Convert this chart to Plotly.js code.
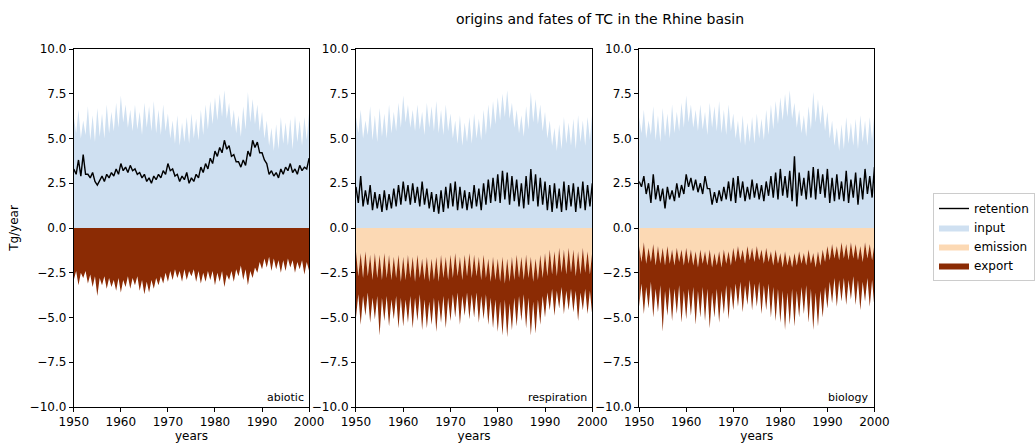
<!DOCTYPE html>
<html>
<head>
<meta charset="utf-8">
<script src="https://cdn.plot.ly/plotly-3.0.1.min.js"></script>
<style>html,body{margin:0;padding:0;background:#fff;}#chart{width:1035px;height:443px;}</style>
</head>
<body>
<div id="chart"></div>
<script>
// half-yearly samples, 1950.0 .. 2000.0 (winter, summer, winter, ...)
const startYear = 1950, step = 0.5, nPoints = 101;

// input of TC (Tg/year), same in all panels
const input = [6.2,5.3,6.6,5.0,6.0,5.2,6.8,4.9,6.3,4.8,6.7,5.1,6.4,5.0,6.9,5.3,6.5,5.4,7.0,5.6,
7.4,5.9,6.9,5.6,6.6,5.4,6.9,5.5,6.5,5.2,7.0,5.6,6.8,5.4,7.1,5.3,6.6,5.2,6.9,5.4,
6.4,5.0,6.0,4.7,6.3,4.6,5.9,4.8,6.2,4.7,6.4,5.0,6.1,4.9,6.6,5.2,6.9,5.5,7.1,5.8,
7.3,6.0,7.5,6.2,7.7,6.1,7.0,5.6,6.6,5.3,6.3,5.1,6.8,5.5,7.6,5.9,7.2,5.8,6.9,5.4,
6.5,5.0,6.0,4.6,5.6,4.3,5.8,4.4,6.2,4.7,5.9,4.6,6.1,4.4,6.3,4.8,6.0,4.6,6.2,4.9,6.5];

// abiotic scenario
const abioticRetention = [3.3,3.0,3.8,2.9,4.1,3.0,3.0,2.8,3.1,2.6,2.4,2.7,2.9,2.6,3.0,2.8,3.1,2.9,3.3,3.0,
3.6,3.2,3.4,3.1,3.5,3.2,3.3,3.0,3.1,2.8,3.0,2.6,2.8,2.5,2.9,2.7,3.0,2.8,3.2,3.0,
3.6,3.2,3.3,2.9,3.0,2.6,2.9,2.7,3.1,2.5,2.8,2.6,3.0,2.8,3.4,3.1,3.6,3.3,3.9,3.6,
4.3,4.0,4.5,4.2,4.9,4.4,4.6,4.0,4.1,3.7,3.7,3.4,3.8,3.5,4.3,4.0,4.9,4.5,4.8,4.2,
4.2,3.8,3.6,3.0,3.2,2.9,3.1,2.8,3.3,3.0,3.4,3.2,3.6,3.1,3.3,3.0,3.5,3.2,3.4,3.3,3.9];
const abioticExport = [2.9,2.4,3.2,2.5,2.8,2.4,3.1,2.6,3.3,2.7,3.8,2.8,3.2,2.7,3.4,2.8,3.3,2.9,3.5,2.8,
3.6,2.9,3.3,2.7,3.4,2.8,3.2,2.7,3.5,2.9,3.7,3.0,3.6,2.9,3.4,2.8,3.2,2.7,3.1,2.5,
3.0,2.4,2.9,2.3,2.8,2.4,3.0,2.3,2.9,2.4,2.7,2.3,3.0,2.4,3.1,2.5,3.0,2.4,2.9,2.4,
3.2,2.5,3.0,2.4,3.3,2.6,2.9,2.4,3.0,2.3,2.7,2.1,2.9,2.3,3.2,2.4,2.8,2.2,2.5,1.9,
2.3,1.7,2.2,1.6,2.4,1.7,2.3,1.8,2.5,1.8,2.4,1.7,2.2,1.8,2.5,1.9,2.3,1.8,2.6,1.9,2.4];

// respiration scenario
const respRetention = [2.3,1.4,2.9,1.2,2.1,1.3,2.4,1.0,2.0,1.1,1.9,0.9,2.1,1.0,1.9,1.1,2.2,1.2,2.4,1.3,
2.6,1.5,2.4,1.3,2.5,1.4,2.3,1.2,2.6,1.3,2.2,1.1,2.0,0.9,1.9,0.8,2.1,0.9,2.3,1.1,
2.5,1.2,2.6,1.0,2.3,1.1,2.1,1.0,2.0,1.1,2.4,1.2,2.2,1.0,2.5,1.3,2.7,1.4,2.8,1.5,
3.0,1.4,3.2,1.6,3.1,1.3,2.9,1.5,2.7,1.2,2.5,1.1,2.9,1.3,3.3,1.5,3.0,1.2,2.8,1.3,
2.6,1.0,2.4,0.9,2.5,1.1,2.2,0.9,2.6,1.0,2.4,1.2,2.5,0.9,2.3,1.1,2.6,1.0,2.4,1.2,2.5];
const respEmission = [1.3,2.7,1.4,2.8,1.3,2.7,1.5,2.9,1.4,2.8,1.5,2.9,1.4,2.8,1.5,2.9,1.6,2.8,1.5,3.0,
1.6,2.9,1.5,2.8,1.6,3.0,1.5,2.8,1.7,2.9,1.6,3.0,1.7,2.9,1.6,3.0,1.5,2.8,1.6,2.9,
1.5,2.8,1.4,2.7,1.6,2.9,1.5,2.7,1.4,2.8,1.5,2.7,1.6,2.9,1.5,2.8,1.7,3.0,1.6,2.9,
1.7,3.0,1.6,3.1,1.7,3.0,1.6,2.9,1.5,2.8,1.6,2.9,1.5,2.8,1.6,3.0,1.7,2.9,1.5,2.8,
1.4,2.7,1.2,2.6,1.3,2.7,1.1,2.5,1.2,2.6,1.1,2.5,1.2,2.7,1.3,2.6,1.1,2.5,1.3,2.6,1.3];
const respExport = [3.7,1.0,4.0,1.0,3.6,0.9,3.8,1.0,3.7,1.0,4.5,1.0,3.8,1.0,4.0,1.1,3.5,1.0,4.1,0.9,
3.9,1.1,3.8,1.0,4.0,0.9,3.7,0.9,4.0,1.1,4.0,1.1,3.7,1.0,4.2,1.0,3.8,1.0,4.0,1.0,
3.7,0.9,3.6,0.9,3.8,0.9,3.4,0.9,3.7,0.9,3.5,0.9,3.7,0.9,3.6,0.9,3.7,0.9,4.0,1.1,
4.1,1.1,4.4,0.9,4.4,1.2,4.1,1.0,4.0,1.0,3.6,0.8,4.1,1.1,4.4,1.1,4.2,1.1,3.9,1.0,
3.6,0.9,3.4,0.8,3.6,0.8,3.4,0.8,3.6,0.9,3.5,0.9,3.5,0.8,3.9,1.0,3.5,0.9,3.5,0.9,3.6];

// biology scenario
const bioRetention = [2.6,2.3,2.9,1.9,2.5,1.4,3.0,1.6,2.4,1.5,2.2,1.1,2.3,1.6,2.1,1.5,2.5,1.7,2.4,1.9,
3.0,2.3,2.8,2.1,2.7,2.0,2.5,1.9,2.9,2.2,2.2,1.3,2.0,1.4,2.1,1.5,2.3,1.6,2.6,1.5,
2.8,1.4,2.9,1.7,2.6,1.5,2.3,1.6,2.7,1.7,2.5,1.6,2.4,1.5,2.6,1.8,2.9,1.7,3.1,1.6,
3.3,1.8,2.9,1.7,3.2,1.5,4.0,1.2,3.1,1.8,2.8,1.6,3.2,1.7,3.4,1.6,3.3,1.9,3.0,1.7,
3.3,1.4,2.8,1.5,3.0,1.6,2.6,1.5,3.2,1.4,2.7,1.7,3.1,1.3,2.8,1.6,3.3,1.9,2.9,1.7,3.4];
const bioEmission = [1.0,1.9,0.8,2.0,1.1,1.9,0.9,2.1,1.0,2.0,1.1,2.1,1.0,2.0,1.2,2.1,1.1,1.9,1.2,2.1,
1.1,2.0,1.2,2.1,1.3,2.2,1.2,2.0,1.3,2.1,1.2,2.2,1.4,2.1,1.3,2.2,1.2,2.0,1.3,2.1,
1.1,1.9,1.0,1.8,1.2,2.0,1.0,1.8,1.1,1.9,1.0,1.8,1.2,2.0,1.1,1.9,1.3,2.1,1.2,2.0,
1.4,2.2,1.3,2.1,1.5,2.2,1.4,2.1,1.3,2.0,1.4,2.1,1.2,2.0,1.4,2.2,1.3,2.1,1.2,1.9,
1.0,1.8,0.9,1.7,1.0,1.8,0.8,1.7,0.9,1.8,0.8,1.7,0.9,1.8,1.0,1.9,0.8,1.7,0.9,1.8,0.9];
const bioExport = [3.4,1.2,4.0,1.3,3.4,1.1,4.1,1.3,3.7,1.2,4.7,1.4,3.9,1.3,4.0,1.3,3.7,1.3,4.1,1.4,
4.0,1.4,3.7,1.2,4.1,1.3,3.8,1.3,3.9,1.3,4.4,1.4,3.6,1.3,4.0,1.3,3.6,1.2,3.8,1.2,
3.5,1.2,3.4,1.2,3.5,1.2,3.3,1.1,3.5,1.2,3.4,1.2,3.6,1.2,3.5,1.2,3.7,1.2,4.0,1.4,
3.9,1.3,4.4,1.5,3.9,1.2,4.1,1.4,3.7,1.3,3.4,1.1,4.1,1.4,4.3,1.4,4.2,1.4,3.8,1.4,
3.5,1.2,3.3,1.1,3.4,1.1,3.3,1.1,3.4,1.1,3.2,1.0,3.4,1.1,3.6,1.1,3.3,1.1,3.5,1.1,3.6];

const panelNames = ["abiotic", "respiration", "biology"];
const xTicks = [1950, 1960, 1970, 1980, 1990, 2000];
const yTicks = [-10, -7.5, -5, -2.5, 0, 2.5, 5, 7.5, 10];

const years = [];
for (let i = 0; i < nPoints; i++) years.push(startYear + i * step);
const neg = a => a.map(v => -v);

const C_INPUT = "#cfe0f1", C_EMIS = "#fcd9b4", C_EXP = "#8b2b04";
const FONT = "DejaVu Sans";

const panels = [
  {ret: abioticRetention, emis: null, exp: abioticExport},
  {ret: respRetention, emis: respEmission, exp: respExport},
  {ret: bioRetention, emis: bioEmission, exp: bioExport}
];

const traces = [];
panels.forEach((p, k) => {
  const xa = k === 0 ? "x" : "x" + (k + 1);
  const ya = k === 0 ? "y" : "y" + (k + 1);
  const legend = (k === 1);
  traces.push({x: years, y: input, xaxis: xa, yaxis: ya, type: "scatter", mode: "lines",
    fill: "tozeroy", fillcolor: C_INPUT, line: {width: 0, color: C_INPUT},
    name: "input", showlegend: legend, legendrank: 2, hoverinfo: "skip"});
  if (p.emis) {
    traces.push({x: years, y: neg(p.emis), xaxis: xa, yaxis: ya, type: "scatter", mode: "lines",
      stackgroup: "neg" + k, fillcolor: C_EMIS, line: {width: 0, color: C_EMIS},
      name: "emission", showlegend: legend, legendrank: 3, hoverinfo: "skip"});
  }
  traces.push({x: years, y: neg(p.exp), xaxis: xa, yaxis: ya, type: "scatter", mode: "lines",
    stackgroup: "neg" + k, fillcolor: C_EXP, line: {width: 0, color: C_EXP},
    name: "export", showlegend: legend, legendrank: 4, hoverinfo: "skip"});
  traces.push({x: years, y: p.ret, xaxis: xa, yaxis: ya, type: "scatter", mode: "lines",
    line: {width: 1.4, color: "#000000"},
    name: "retention", showlegend: legend, legendrank: 1, hoverinfo: "skip"});
});

const W = 1035, H = 443;
const xDom = [[74, 310], [357, 594], [641, 877]];
const yDom = [(H - 407) / H, (H - 49) / H];

function xaxisDef(k) {
  return {domain: [xDom[k][0] / W, xDom[k][1] / W], range: [1950, 2000], anchor: k === 0 ? "y" : "y" + (k + 1),
    tickvals: xTicks, ticktext: xTicks.map(String), ticks: "outside", ticklen: 4, tickwidth: 1, tickcolor: "#000",
    showline: true, mirror: true, linecolor: "#000", linewidth: 1, showgrid: false, zeroline: false,
    tickfont: {family: FONT, size: 12, color: "#000"},
    title: {text: "years", font: {family: FONT, size: 12, color: "#000"}, standoff: 2}};
}
function yaxisDef(k) {
  return {domain: yDom, range: [-10, 10], anchor: k === 0 ? "x" : "x" + (k + 1),
    tickvals: yTicks, ticktext: yTicks.map(v => (v < 0 ? "\u2212" : "") + Math.abs(v).toFixed(1)),
    ticks: "outside", ticklen: 4, tickwidth: 1, tickcolor: "#000",
    showline: true, mirror: true, linecolor: "#000", linewidth: 1, showgrid: false, zeroline: false,
    tickfont: {family: FONT, size: 12, color: "#000"},
    title: k === 0 ? {text: "Tg/year", font: {family: FONT, size: 12, color: "#000"}, standoff: 8} : {text: ""}};
}

const layout = {
  width: W, height: H, margin: {l: 0, r: 0, t: 0, b: 0, pad: 0},
  paper_bgcolor: "#fff", plot_bgcolor: "#fff",
  font: {family: FONT, size: 12, color: "#000"},
  title: {text: "origins and fates of TC in the Rhine basin", x: 600 / W, xanchor: "center",
    y: 1 - 19 / H, yanchor: "middle", font: {family: FONT, size: 14, color: "#000"}},
  xaxis: xaxisDef(0), yaxis: yaxisDef(0),
  xaxis2: xaxisDef(1), yaxis2: yaxisDef(1),
  xaxis3: xaxisDef(2), yaxis3: yaxisDef(2),
  legend: {x: 936 / W, y: 1 - 193 / H, xanchor: "left", yanchor: "top", bgcolor: "#fff",
    bordercolor: "#cccccc", borderwidth: 1, font: {family: FONT, size: 12, color: "#000"},
    traceorder: "normal", tracegroupgap: 0, itemwidth: 30},
  annotations: panelNames.map((n, k) => ({
    text: n, xref: k === 0 ? "x" : "x" + (k + 1), yref: k === 0 ? "y" : "y" + (k + 1),
    x: 2000, y: -10, xanchor: "right", yanchor: "bottom", xshift: -3, yshift: 1,
    showarrow: false, font: {family: FONT, size: 11, color: "#000"}}))
};

Plotly.newPlot("chart", traces, layout, {displayModeBar: false, staticPlot: true});
</script>
</body>
</html>
